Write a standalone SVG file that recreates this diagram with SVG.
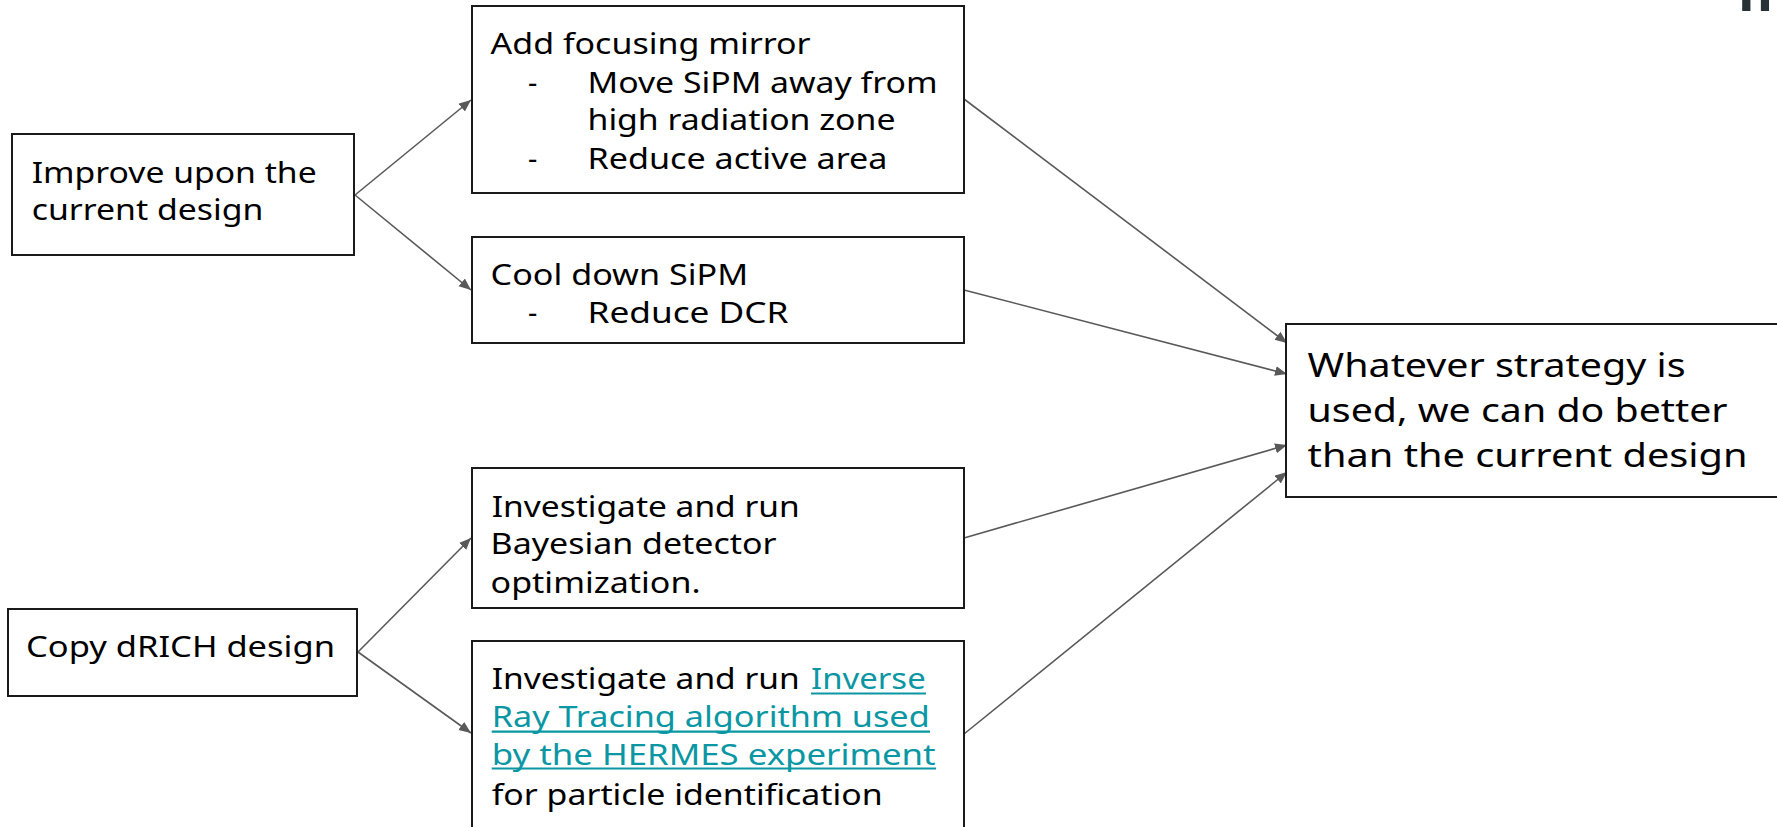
<svg xmlns="http://www.w3.org/2000/svg" width="1777" height="827" viewBox="0 0 1777 827">
<style>
.box{fill:#fff;stroke:#1a1a1a;stroke-width:2}
.t{font-family:"Noto Sans","Open Sans",sans-serif;font-size:29px;fill:#000}
.big{font-size:33px}
.link{fill:#0a97a3}
.ul{stroke:#0a97a3;stroke-width:2.2}
.c{stroke:#595959;stroke-width:1.6;fill:none;marker-end:url(#ah)}
</style>
<defs>
<marker id="ah" markerUnits="userSpaceOnUse" markerWidth="14" markerHeight="12" refX="12" refY="5" orient="auto">
<path d="M0,0 L12,5 L0,10 Z" fill="#595959"/>
</marker>
</defs>
<rect width="1777" height="827" fill="#fff"/>
<text x="1738" y="11" style="font-family:'Liberation Sans',sans-serif;font-size:60px;font-weight:bold;fill:#263238">m</text>
<g id="connectors">
<line class="c" x1="355" y1="195" x2="471" y2="100"/>
<line class="c" x1="355" y1="195" x2="471" y2="290"/>
<line class="c" x1="358" y1="652" x2="471" y2="538"/>
<line class="c" x1="358" y1="652" x2="471" y2="733"/>
<line class="c" x1="964" y1="99" x2="1287" y2="343"/>
<line class="c" x1="964" y1="290" x2="1287" y2="374"/>
<line class="c" x1="964" y1="538" x2="1287" y2="445"/>
<line class="c" x1="964" y1="734" x2="1287" y2="472"/>
</g>
<g id="improve">
<rect class="box" x="12" y="134" width="342" height="121"/>
<text class="t" x="31.7" y="183.3" textLength="285" lengthAdjust="spacingAndGlyphs">Improve upon the</text>
<text class="t" x="31.7" y="220" textLength="231.6" lengthAdjust="spacingAndGlyphs">current design</text>
</g>
<g id="mirror">
<rect class="box" x="472" y="6" width="492" height="187"/>
<text class="t" x="490.6" y="54.3" textLength="320" lengthAdjust="spacingAndGlyphs">Add focusing mirror</text>
<text class="t" x="528" y="92.7">-</text>
<text class="t" x="587.5" y="92.7" textLength="350" lengthAdjust="spacingAndGlyphs">Move SiPM away from</text>
<text class="t" x="587.5" y="130" textLength="308" lengthAdjust="spacingAndGlyphs">high radiation zone</text>
<text class="t" x="528" y="169">-</text>
<text class="t" x="587.5" y="169" textLength="300" lengthAdjust="spacingAndGlyphs">Reduce active area</text>
</g>
<g id="cool">
<rect class="box" x="472" y="237" width="492" height="106"/>
<text class="t" x="490.6" y="285" textLength="257.5" lengthAdjust="spacingAndGlyphs">Cool down SiPM</text>
<text class="t" x="528" y="323.3">-</text>
<text class="t" x="587.5" y="323.3" textLength="201" lengthAdjust="spacingAndGlyphs">Reduce DCR</text>
</g>
<g id="copy">
<rect class="box" x="8" y="609" width="349" height="87"/>
<text class="t" x="26" y="656.7" textLength="309" lengthAdjust="spacingAndGlyphs">Copy dRICH design</text>
</g>
<g id="bayesian">
<rect class="box" x="472" y="468" width="492" height="140"/>
<text class="t" x="491.7" y="516.7" textLength="308" lengthAdjust="spacingAndGlyphs">Investigate and run</text>
<text class="t" x="490.6" y="554.3" textLength="286" lengthAdjust="spacingAndGlyphs">Bayesian detector</text>
<text class="t" x="490.6" y="593.3" textLength="210" lengthAdjust="spacingAndGlyphs">optimization.</text>
</g>
<g id="inverse">
<rect class="box" x="472" y="641" width="492" height="200"/>
<text class="t" x="491.7" y="689.3" textLength="308" lengthAdjust="spacingAndGlyphs">Investigate and run</text>
<text class="t link" x="811" y="689.3" textLength="114.7" lengthAdjust="spacingAndGlyphs">Inverse</text>
<text class="t link" x="491.7" y="727.3" textLength="438" lengthAdjust="spacingAndGlyphs">Ray Tracing algorithm used</text>
<text class="t link" x="491.7" y="765" textLength="444" lengthAdjust="spacingAndGlyphs">by the HERMES experiment</text>
<line class="ul" x1="811" y1="693.5" x2="926" y2="693.5"/>
<line class="ul" x1="491.7" y1="731.7" x2="930" y2="731.7"/>
<line class="ul" x1="491.7" y1="768.5" x2="936" y2="768.5"/>
<text class="t" x="491.7" y="805" textLength="391" lengthAdjust="spacingAndGlyphs">for particle identification</text>
</g>
<g id="result">
<rect class="box" x="1286" y="324" width="495" height="173"/>
<text class="t big" x="1307.6" y="376.7" textLength="378" lengthAdjust="spacingAndGlyphs">Whatever strategy is</text>
<text class="t big" x="1307.6" y="422.3" textLength="420" lengthAdjust="spacingAndGlyphs">used, we can do better</text>
<text class="t big" x="1307.6" y="466.7" textLength="440" lengthAdjust="spacingAndGlyphs">than the current design</text>
</g>
</svg>
